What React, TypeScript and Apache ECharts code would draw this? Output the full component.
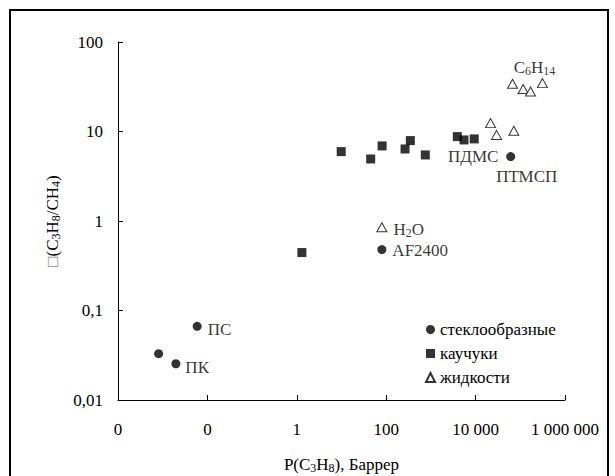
import React, { useEffect, useRef } from "react";
import * as echarts from "echarts";

// ---- data ----
const xTickLabels = ["0", "0", "1", "100", "10 000", "1 000 000"];
const yTickLabels = ["0,01", "0,1", "1", "10", "100"];

const seriesNames = ["стеклообразные", "каучуки", "жидкости"];

const glassyX = [0.00081, 0.00197, 0.0059, 80, 61000];
const glassyY = [0.0329, 0.0254, 0.0665, 0.48, 5.24];
const glassyLabels = ["", "ПК", "ПС", "AF2400", "ПТМСП"];

const rubberX = [1.3, 9.85, 45, 81, 264, 347, 750, 3900, 5500, 9300];
const rubberY = [0.444, 5.96, 4.93, 6.9, 6.38, 7.91, 5.47, 8.77, 8.05, 8.26];
const rubberLabels = ["", "", "", "", "", "", "", "", "", "ПДМС"];

const liquidX = [80, 21600, 29400, 71600, 67000, 115600, 169000, 313000];
const liquidY = [0.85, 12.4, 9.16, 10.2, 34.1, 29.8, 28.0, 34.7];
const liquidLabels = ["H2O", "", "", "", "", "", "", "C6H14"];

const xAxisName = "{n|P(C}{s|3}{n|H}{s|8}{n|), Баррер}";
const yAxisName = "{b|□}{n|(C}{s|3}{n|H}{s|8}{n|/CH}{s|4}{n|)}";

// ---- styles ----
const FONT = "'Liberation Serif', 'Times New Roman', serif";
const FS = 17;

const rich = {
  n: { fontSize: FS, fontFamily: FONT, color: "#000", lineHeight: 20, verticalAlign: "middle" },
  s: { fontSize: 12, fontFamily: FONT, color: "#000", lineHeight: 12, verticalAlign: "bottom" },
  b: { fontSize: FS, fontFamily: FONT, color: "#888", lineHeight: 20, verticalAlign: "middle" },
};

const labelRich: Record<string, string> = {
  H2O: "{n|H}{s|2}{n|O}",
  C6H14: "{n|C}{s|6}{n|H}{s|14}",
};

const labelPlacement: Record<string, any> = {
  "ПК": { position: "right", distance: 5, offset: [0, 4] },
  "ПС": { position: "right", distance: 6, offset: [0, 3] },
  AF2400: { position: "right", distance: 6, offset: [0, 1] },
  "ПТМСП": { position: "bottom", distance: 5, offset: [16, 0] },
  "ПДМС": { position: "bottom", distance: 3, offset: [-1, 0] },
  H2O: { position: "right", distance: 6, offset: [0, 2] },
  C6H14: { position: "top", distance: 1, offset: [-8, 0] },
};

function makeLabel(name: string) {
  if (!name) return { show: false };
  return {
    show: true,
    formatter: labelRich[name] ? labelRich[name] : "{n|" + name + "}",
    color: "#000",
    fontSize: FS,
    fontFamily: FONT,
    rich,
    ...labelPlacement[name],
  };
}

function build(xs: number[], ys: number[], labels: string[]) {
  return xs.map((x, i) => ({ value: [x, ys[i]], label: makeLabel(labels[i]) }));
}

export default function App() {
  const ref = useRef<HTMLDivElement>(null);

  useEffect(() => {
    if (!ref.current) return;
    const chart = echarts.init(ref.current, null, { renderer: "svg" });
    const axisCommon = {
      axisLine: { show: true, lineStyle: { color: "#000", width: 1 } },
      axisTick: { show: true, inside: true, length: 5, lineStyle: { color: "#000" } },
      splitLine: { show: false },
      minorTick: { show: false },
      nameLocation: "middle",
      nameTextStyle: { fontSize: FS, fontFamily: FONT, color: "#000", rich },
    };
    chart.setOption({
      animation: false,
      backgroundColor: "#fff",
      grid: {
        left: 118,
        right: 50,
        top: 42,
        bottom: 76,
        containLabel: false,
        outerBoundsMode: "none",
      },
      graphic: [
        {
          type: "rect",
          silent: true,
          z: -10,
          shape: { x: 10, y: 10, width: 598, height: 520 },
          style: { fill: "none", stroke: "#000", lineWidth: 2 },
        },
      ],
      legend: {
        orient: "vertical",
        left: 425,
        top: 321,
        padding: 0,
        itemWidth: 9,
        itemHeight: 9,
        itemGap: 7,
        data: seriesNames,
        textStyle: { fontSize: FS, fontFamily: FONT, color: "#000" },
      },
      xAxis: {
        type: "log",
        logBase: 100,
        min: 0.0001,
        max: 1000000,
        name: xAxisName,
        nameGap: 54,
        ...axisCommon,
        axisLabel: {
          margin: 21,
          fontSize: FS,
          fontFamily: FONT,
          color: "#000",
          formatter: (v: number) => xTickLabels[Math.round(Math.log10(v) / 2) + 2] ?? "",
        },
      },
      yAxis: {
        type: "log",
        logBase: 10,
        min: 0.01,
        max: 100,
        name: yAxisName,
        nameGap: 53,
        ...axisCommon,
        axisLabel: {
          margin: 15,
          fontSize: FS,
          fontFamily: FONT,
          color: "#000",
          formatter: (v: number) => yTickLabels[Math.round(Math.log10(v)) + 2] ?? "",
        },
      },
      series: [
        {
          type: "scatter",
          name: seriesNames[0],
          symbol: "circle",
          symbolSize: 9,
          itemStyle: { color: "#000" },
          data: build(glassyX, glassyY, glassyLabels),
        },
        {
          type: "scatter",
          name: seriesNames[1],
          symbol: "rect",
          symbolSize: 9,
          itemStyle: { color: "#000" },
          data: build(rubberX, rubberY, rubberLabels),
        },
        {
          type: "scatter",
          name: seriesNames[2],
          symbol: "triangle",
          symbolSize: [10, 9],
          itemStyle: { color: "#fff", borderColor: "#000", borderWidth: 1 },
          data: build(liquidX, liquidY, liquidLabels),
        },
      ],
    });
    return () => chart.dispose();
  }, []);

  return (
    <div
      ref={ref}
      style={{ position: "fixed", left: 0, top: 0, width: 615, height: 476 }}
    />
  );
}
